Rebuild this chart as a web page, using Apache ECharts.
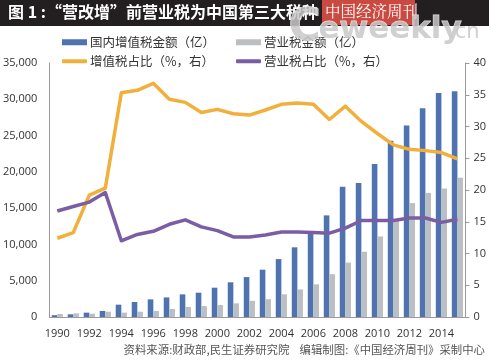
<!DOCTYPE html>
<html>
<head>
<meta charset="utf-8">
<script src="https://cdn.jsdelivr.net/npm/echarts@6/dist/echarts.min.js"></script>
<style>
html,body{margin:0;padding:0;background:#fff;}
#c{width:489px;height:362px;}
</style>
</head>
<body>
<div id="c"></div>
<script>
var years = ['1990','1991','1992','1993','1994','1995','1996','1997','1998','1999','2000','2001','2002','2003','2004','2005','2006','2007','2008','2009','2010','2011','2012','2013','2014','2015'];
var vatAmount = [250, 370, 600, 830, 1700, 2070, 2430, 2700, 3120, 3350, 4040, 4780, 5500, 6520, 7980, 9600, 11500, 14000, 17950, 18480, 21090, 24270, 26400, 28750, 30850, 31100];
var btAmount = [410, 500, 450, 730, 600, 730, 830, 1100, 1380, 1500, 1650, 1880, 2230, 2450, 3130, 3800, 4500, 5900, 7500, 9000, 11100, 13400, 15700, 17100, 17700, 19200];
var vatShare = [12.4, 13.3, 19.2, 20.3, 35.3, 35.7, 36.8, 34.3, 33.8, 32.2, 32.7, 32.0, 31.8, 32.6, 33.5, 33.7, 33.5, 31.1, 33.2, 30.8, 28.9, 27.1, 26.4, 26.2, 25.9, 24.9];
var btShare = [16.7, 17.4, 18.1, 19.6, 12.0, 13.0, 13.5, 14.6, 15.3, 14.2, 13.6, 12.6, 12.6, 12.9, 13.4, 13.4, 13.3, 13.2, 14.0, 15.2, 15.2, 15.2, 15.6, 15.6, 14.9, 15.4];
var leftTicks = [0, 5000, 10000, 15000, 20000, 25000, 30000, 35000];
var rightTicks = [0, 5, 10, 15, 20, 25, 30, 35, 40];

var names = ['国内增值税金额（亿）', '营业税金额（亿）', '增值税占比（%，右）', '营业税占比（%，右）'];
var colors = ['#4f72b1', '#bcbfc2', '#f1b03c', '#7a5ea4'];
var font = '"Noto Sans CJK SC", "Open Sans", sans-serif';

var chart = echarts.init(document.getElementById('c'), null, {renderer: 'canvas'});

function legendItem(name, left, top, isLine) {
  return {
    data: [name],
    left: left, top: top,
    padding: 0,
    itemWidth: 25,
    itemHeight: isLine ? 4 : 6,
    icon: isLine ? 'roundRect' : 'rect',
    itemGap: 0,
    textStyle: {fontSize: 12.5, color: '#333', fontFamily: font, padding: [0,0,0,-2]},
    selectedMode: false
  };
}

chart.setOption({
  animation: false,
  textStyle: {fontFamily: font},
  grid: {left: 48, right: 23, top: 63, bottom: 45, containLabel: false},
  legend: [
    legendItem(names[0], 62, 36, false),
    legendItem(names[1], 236, 36, false),
    legendItem(names[2], 62, 55, true),
    legendItem(names[3], 236, 55, true)
  ],
  xAxis: {
    type: 'category',
    data: years,
    boundaryGap: true,
    axisLine: {lineStyle: {color: '#9a9a9a', width: 1}},
    axisTick: {show: false},
    axisLabel: {interval: 1, color: '#333', fontSize: 11, margin: 11, fontFamily: '"Open Sans", sans-serif'}
  },
  yAxis: [
    {
      type: 'value', min: leftTicks[0], max: leftTicks[leftTicks.length - 1], interval: leftTicks[1] - leftTicks[0],
      axisLine: {show: true, lineStyle: {color: '#9a9a9a'}},
      axisTick: {show: false},
      splitLine: {show: false},
      axisLabel: {color: '#333', fontSize: 11, margin: 12, fontFamily: '"Open Sans", sans-serif',
        formatter: function (v) { return v.toLocaleString('en-US'); }}
    },
    {
      type: 'value', min: rightTicks[0], max: rightTicks[rightTicks.length - 1], interval: rightTicks[1] - rightTicks[0],
      position: 'right',
      axisLine: {show: true, lineStyle: {color: '#9a9a9a'}},
      axisTick: {show: true, length: 4, lineStyle: {color: '#9a9a9a'}},
      splitLine: {show: false},
      axisLabel: {color: '#333', fontSize: 11, margin: 8, fontFamily: '"Open Sans", sans-serif'}
    }
  ],
  series: [
    {name: names[0], type: 'bar', data: vatAmount, yAxisIndex: 0, barWidth: 5.6, barGap: '0%', itemStyle: {color: colors[0]}},
    {name: names[1], type: 'bar', data: btAmount, yAxisIndex: 0, barWidth: 5.6, barGap: '0%', itemStyle: {color: colors[1]}},
    {name: names[2], type: 'line', data: vatShare, yAxisIndex: 1, symbol: 'none', lineStyle: {color: colors[2], width: 3.5, join: 'round'}, itemStyle: {color: colors[2]}},
    {name: names[3], type: 'line', data: btShare, yAxisIndex: 1, symbol: 'none', lineStyle: {color: colors[3], width: 3.5, join: 'round'}, itemStyle: {color: colors[3]}}
  ],
  graphic: [
    {type: 'rect', left: 0, top: 0, shape: {width: 489, height: 26}, style: {fill: '#231f20'}, z: 10},
    {type: 'text', left: 8, top: 4, style: {text: '图 1 :“营改增”前营业税为中国第三大税种', fill: '#ffffff', font: 'bold 16px "Noto Sans CJK SC", sans-serif'}, z: 11},
    {type: 'rect', left: 322, top: 0, shape: {width: 93, height: 25}, style: {fill: '#c84a40'}, z: 11},
    {type: 'text', left: 325, top: 3, style: {text: '中国经济周刊', fill: '#ffffff', font: '15.5px "Noto Serif CJK SC", "Noto Sans CJK SC", serif'}, z: 12},
    {type: 'text', left: 288, top: 6, style: {text: 'C', fill: 'rgba(200,200,200,0.85)', stroke: 'rgba(255,255,255,0.8)', lineWidth: 1, font: 'bold 44px "DejaVu Sans", sans-serif'}, z: 13},
    {type: 'text', left: 318, top: 14, style: {text: 'eweekly', fill: 'rgba(200,200,200,0.85)', stroke: 'rgba(255,255,255,0.8)', lineWidth: 1, font: 'bold 31px "DejaVu Sans", sans-serif'}, z: 13},
    {type: 'text', left: 448, top: 22, style: {text: '.cn', fill: 'rgba(200,200,200,0.85)', font: '21px "DejaVu Sans", sans-serif'}, z: 13},
    {type: 'text', right: 4, top: 344, style: {text: '资料来源:财政部,民生证券研究院    编辑制图:《中国经济周刊》采制中心', fill: '#555', font: '11.4px "Noto Sans CJK SC", sans-serif'}}
  ]
});
</script>
</body>
</html>
